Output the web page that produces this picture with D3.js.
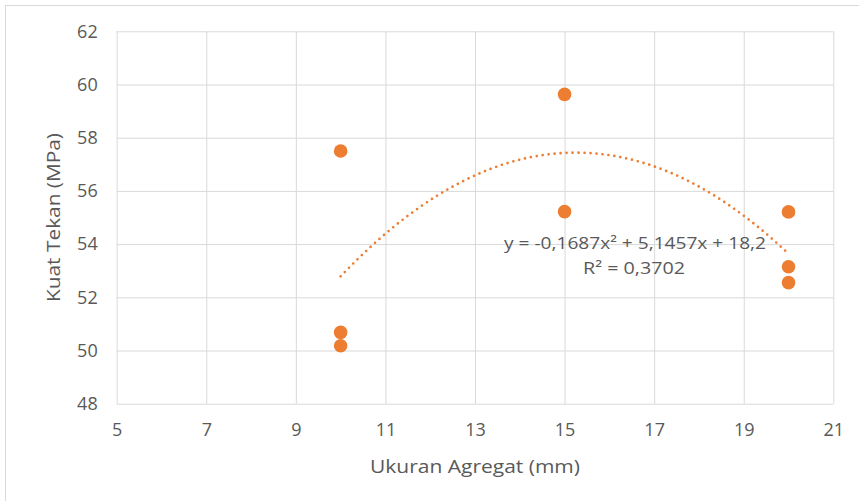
<!DOCTYPE html>
<html>
<head>
<meta charset="utf-8">
<script src="https://cdn.jsdelivr.net/npm/d3@7/dist/d3.min.js"></script>
<style>
  html, body { margin: 0; padding: 0; background: #fff; }
  svg { display: block; }
  text { font-family: "Open Sans", "Liberation Sans", sans-serif; fill: #595959; }
</style>
</head>
<body>
<svg id="chart" width="859" height="501"></svg>
<script>
// Data
const xValues = [10, 10, 10, 15, 15, 20, 20, 20];
const yValues = [57.5, 50.68, 50.18, 59.63, 55.22, 55.21, 53.15, 52.55];
const xTicks = [5, 7, 9, 11, 13, 15, 17, 19, 21];
const yTicks = [48, 50, 52, 54, 56, 58, 60, 62];
const trendCoef = [-0.1687, 5.1457, 18.2]; // a, b, c
const trendRange = [10, 20];
const equationText = "y = -0,1687x² + 5,1457x + 18,2";
const r2Text = "R² = 0,3702";
const xTitle = "Ukuran Agregat (mm)";
const yTitle = "Kuat Tekan (MPa)";

const svg = d3.select("#chart");
const W = 859, H = 501;
const m = { left: 116.7, right: 833.3, top: 31.3, bottom: 403.7 };
const orange = "#ED7D31";
const grid = "#D9D9D9";

// Chart border
svg.append("rect").attr("x", 5.5).attr("y", 5.5).attr("width", W + 10).attr("height", H + 10)
  .attr("fill", "#fff").attr("stroke", "#D9D9D9").attr("stroke-width", 1);

const x = d3.scaleLinear().domain([5, 21]).range([m.left, m.right]);
const y = d3.scaleLinear().domain([48, 62]).range([m.bottom, m.top]);

// Gridlines
const gx = svg.append("g").attr("transform", `translate(0,${m.bottom})`)
  .call(d3.axisBottom(x).tickValues(xTicks).tickSize(-(m.bottom - m.top)).tickFormat(""));
gx.select(".domain").remove();
gx.selectAll("line").attr("stroke", grid).attr("stroke-width", 1);

const gy = svg.append("g").attr("transform", `translate(${m.left},0)`)
  .call(d3.axisLeft(y).tickValues(yTicks).tickSize(-(m.right - m.left)).tickFormat(""));
gy.select(".domain").remove();
gy.selectAll("line").attr("stroke", grid).attr("stroke-width", 1);

// Tick labels
const xl = svg.append("g").attr("transform", `translate(0,${m.bottom})`)
  .call(d3.axisBottom(x).tickValues(xTicks).tickSize(0).tickPadding(20).tickFormat(d3.format("d")));
xl.select(".domain").remove();
xl.selectAll("text").attr("font-size", 18).attr("fill", "#595959")
  .attr("font-family", '"Open Sans", sans-serif').attr("dy", "0.71em");

const yl = svg.append("g").attr("transform", `translate(${m.left},0)`)
  .call(d3.axisLeft(y).tickValues(yTicks).tickSize(0).tickPadding(19).tickFormat(d3.format("d")));
yl.select(".domain").remove();
yl.selectAll("text").attr("font-size", 18).attr("fill", "#595959")
  .attr("font-family", '"Open Sans", sans-serif');

// Axis titles
svg.append("text").attr("x", (m.left + m.right) / 2).attr("y", 473)
  .attr("text-anchor", "middle").attr("font-size", 19)
  .attr("textLength", 210).attr("lengthAdjust", "spacingAndGlyphs")
  .text(xTitle);
svg.append("text").attr("transform", `translate(60,${(m.top + m.bottom) / 2}) rotate(-90)`)
  .attr("text-anchor", "middle").attr("font-size", 19)
  .attr("textLength", 169).attr("lengthAdjust", "spacingAndGlyphs")
  .text(yTitle);

// Trendline
const [a, b, c] = trendCoef;
const trendPts = d3.range(trendRange[0], trendRange[1] + 0.0001, 0.1).map(v => [v, a * v * v + b * v + c]);
svg.append("path").datum(trendPts)
  .attr("d", d3.line().x(d => x(d[0])).y(d => y(d[1])))
  .attr("fill", "none").attr("stroke", orange).attr("stroke-width", 2.7)
  .attr("stroke-linecap", "round").attr("stroke-dasharray", "0 6");

// Points
svg.append("g").selectAll("circle").data(xValues.map((v, i) => [v, yValues[i]]))
  .join("circle").attr("cx", d => x(d[0])).attr("cy", d => y(d[1])).attr("r", 6.8)
  .attr("fill", orange);

// Equation
svg.append("text").attr("x", 635).attr("y", 249).attr("text-anchor", "middle")
  .attr("font-size", 17).attr("textLength", 262).attr("lengthAdjust", "spacingAndGlyphs")
  .text(equationText);
svg.append("text").attr("x", 634).attr("y", 274).attr("text-anchor", "middle")
  .attr("font-size", 17).attr("textLength", 102).attr("lengthAdjust", "spacingAndGlyphs")
  .text(r2Text);
</script>
</body>
</html>
